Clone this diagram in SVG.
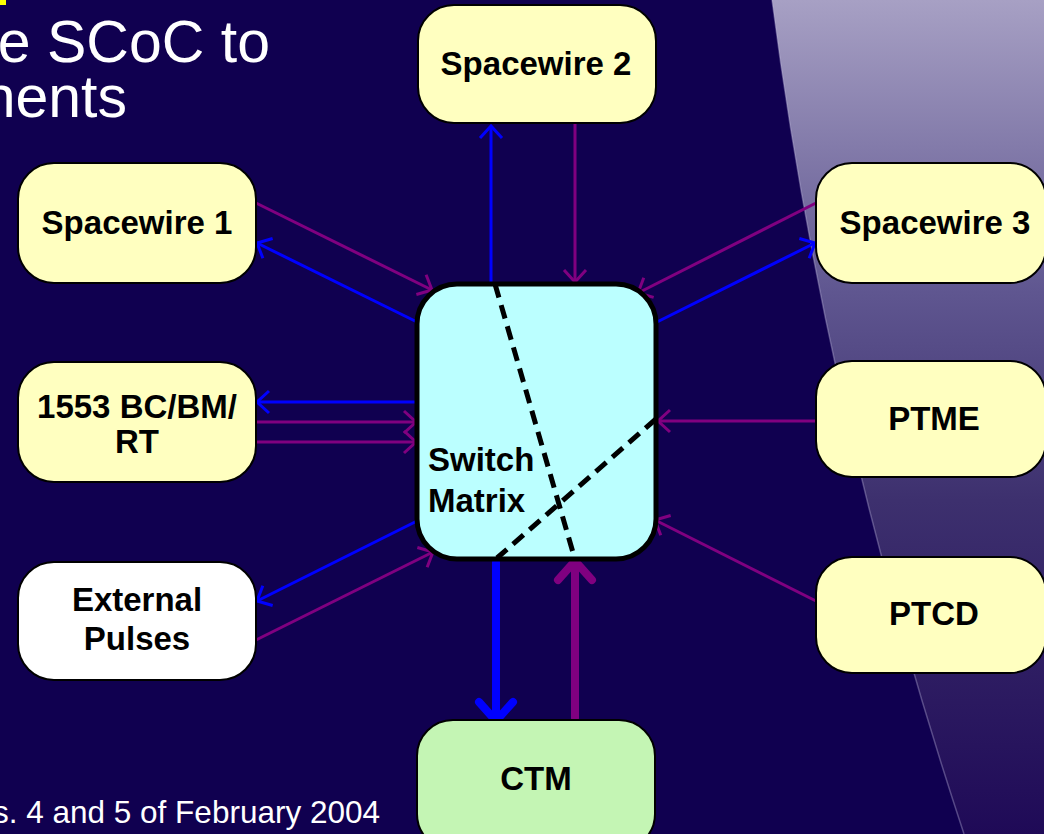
<svg xmlns="http://www.w3.org/2000/svg" width="1044" height="834" viewBox="0 0 1044 834">
  <defs>
    <linearGradient id="sideGlow" x1="0" y1="0" x2="0" y2="1">
      <stop offset="0" stop-color="#a7a0c4"/>
      <stop offset="0.35" stop-color="#5f5690"/>
      <stop offset="0.6" stop-color="#3d306e"/>
      <stop offset="1" stop-color="#1f0a57"/>
    </linearGradient>
    <marker id="headBlue" markerUnits="userSpaceOnUse" orient="auto" overflow="visible" markerWidth="1" markerHeight="1">
      <path d="M-12,-11 L0,0 L-12,11" fill="none" stroke="#0000ff" stroke-width="3"/>
    </marker>
    <marker id="headPurple" markerUnits="userSpaceOnUse" orient="auto" overflow="visible" markerWidth="1" markerHeight="1">
      <path d="M-12,-11 L0,0 L-12,11" fill="none" stroke="#800080" stroke-width="3"/>
    </marker>
    <marker id="headBlueThick" markerUnits="userSpaceOnUse" orient="auto" overflow="visible" markerWidth="1" markerHeight="1">
      <path d="M-19,-17 L0,0 L-19,17" fill="none" stroke="#0000ff" stroke-width="8" stroke-linecap="round" stroke-linejoin="round"/>
    </marker>
    <marker id="headPurpleThick" markerUnits="userSpaceOnUse" orient="auto" overflow="visible" markerWidth="1" markerHeight="1">
      <path d="M-19,-17 L0,0 L-19,17" fill="none" stroke="#800080" stroke-width="8" stroke-linecap="round" stroke-linejoin="round"/>
    </marker>
  </defs>
  <style>
    .box { stroke: #000000; stroke-width: 2; }
    .yellow { fill: #ffffc0; }
    .white { fill: #ffffff; }
    .green { fill: #c4f5b4; }
    .label { font-family: "Liberation Sans", Arial, sans-serif; font-weight: bold; font-size: 33px; fill: #000000; text-anchor: middle; }
    .left { text-anchor: start; }
    .blue { stroke: #0000ff; stroke-width: 3; fill: none; marker-end: url(#headBlue); }
    .purple { stroke: #800080; stroke-width: 3; fill: none; marker-end: url(#headPurple); }
    .blueThick { stroke: #0000ff; stroke-width: 8; fill: none; stroke-linecap: round; marker-end: url(#headBlueThick); }
    .purpleThick { stroke: #800080; stroke-width: 8; fill: none; stroke-linecap: round; marker-end: url(#headPurpleThick); }
    .dash { stroke: #000000; stroke-width: 5; stroke-dasharray: 14 8; fill: none; }
    .title { font-family: "Liberation Sans", Arial, sans-serif; fill: #ffffff; text-anchor: end; }
  </style>

  <!-- slide background -->
  <rect x="0" y="0" width="1044" height="834" fill="#100050"/>
  <path d="M772,0 Q826,417 964,834 L1044,834 L1044,0 Z" fill="url(#sideGlow)"/>
  <path d="M772,0 Q826,417 964,834" fill="none" stroke="#c8c4e4" stroke-opacity="0.35" stroke-width="1.5"/>

  <!-- slide title and footer -->
  <rect x="0" y="0" width="6" height="5" fill="#ffff00"/>
  <text class="title" x="270" y="62" font-size="59">e SCoC to</text>
  <text class="title" x="127" y="117" font-size="59">nents</text>
  <text class="title" x="380" y="823" font-size="31.5">s. 4 and 5 of February 2004</text>

  <!-- connectors -->
  <g id="connectors">
    <!-- Spacewire 2 -->
    <line class="blue" x1="491" y1="283" x2="491" y2="126"/>
    <line class="purple" x1="575" y1="123" x2="575" y2="282"/>
    <!-- Spacewire 1 -->
    <line class="purple" x1="256" y1="203" x2="432" y2="290"/>
    <line class="blue" x1="417" y1="322" x2="257" y2="243"/>
    <!-- Spacewire 3 -->
    <line class="purple" x1="816" y1="203" x2="638" y2="293"/>
    <line class="blue" x1="655" y1="323" x2="815" y2="243"/>
    <!-- 1553 -->
    <line class="blue" x1="417" y1="402" x2="257" y2="402"/>
    <line class="purple" x1="256" y1="422" x2="416" y2="422"/>
    <line class="purple" x1="256" y1="442" x2="416" y2="442"/>
    <!-- External Pulses -->
    <line class="blue" x1="417" y1="521" x2="257" y2="601"/>
    <line class="purple" x1="256" y1="640" x2="433" y2="552"/>
    <!-- PTME -->
    <line class="purple" x1="816" y1="421" x2="658" y2="421"/>
    <!-- PTCD -->
    <line class="purple" x1="816" y1="601" x2="655" y2="520"/>
    <!-- CTM -->
    <line class="blueThick" x1="496" y1="562" x2="496" y2="721"/>
    <line class="purpleThick" x1="575" y1="718" x2="575" y2="561"/>
  </g>

  <!-- nodes -->
  <g id="spacewire2">
    <rect class="box yellow" x="418" y="5" width="238" height="118" rx="36"/>
    <text class="label" x="536" y="75">Spacewire 2</text>
  </g>
  <g id="spacewire1">
    <rect class="box yellow" x="18" y="163" width="238" height="120" rx="36"/>
    <text class="label" x="137" y="234">Spacewire 1</text>
  </g>
  <g id="spacewire3">
    <rect class="box yellow" x="816" y="163" width="230" height="120" rx="36"/>
    <text class="label" x="935" y="234">Spacewire 3</text>
  </g>
  <g id="mil1553">
    <rect class="box yellow" x="18" y="362" width="238" height="120" rx="36"/>
    <text class="label" x="137" y="418">1553 BC/BM/</text>
    <text class="label" x="137" y="453">RT</text>
  </g>
  <g id="externalPulses">
    <rect class="box white" x="18" y="562" width="238" height="118" rx="36"/>
    <text class="label" x="137" y="611">External</text>
    <text class="label" x="137" y="650">Pulses</text>
  </g>
  <g id="ptme">
    <rect class="box yellow" x="816" y="361" width="230" height="116" rx="36"/>
    <text class="label" x="934" y="430">PTME</text>
  </g>
  <g id="ptcd">
    <rect class="box yellow" x="816" y="557" width="230" height="116" rx="36"/>
    <text class="label" x="934" y="625">PTCD</text>
  </g>
  <g id="ctm">
    <rect class="box green" x="417" y="720" width="238" height="130" rx="36"/>
    <text class="label" x="536" y="790">CTM</text>
  </g>
  <g id="switchMatrix">
    <rect x="417" y="284" width="239" height="275" rx="40" fill="#bbffff" stroke="#000000" stroke-width="5"/>
    <line class="dash" x1="495" y1="284" x2="574" y2="556"/>
    <line class="dash" x1="656" y1="419" x2="497" y2="558"/>
    <text class="label left" x="428" y="471">Switch</text>
    <text class="label left" x="428" y="512">Matrix</text>
  </g>
</svg>
